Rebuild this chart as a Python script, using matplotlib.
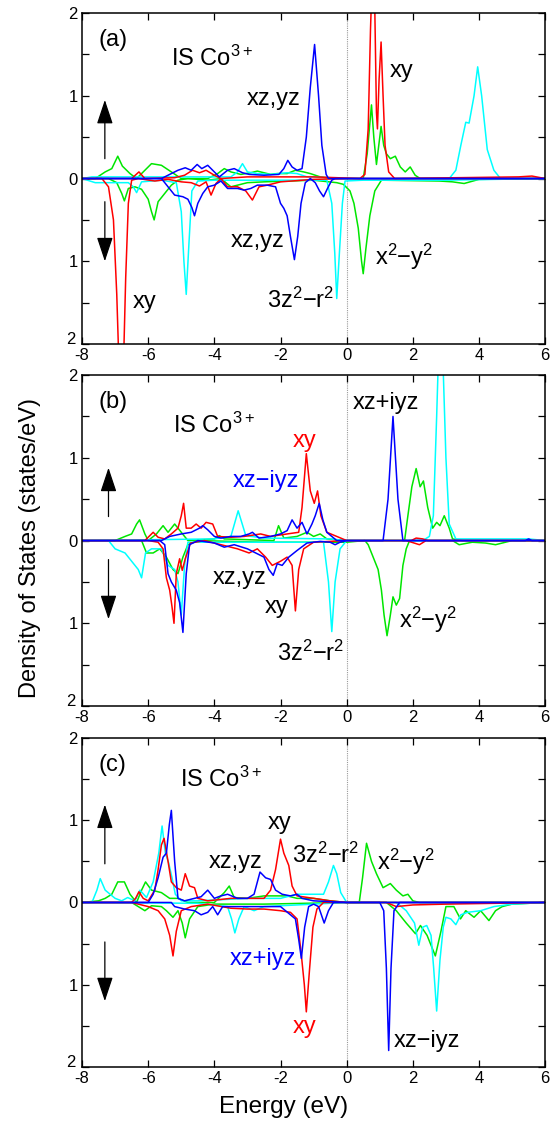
import numpy as np
import matplotlib.pyplot as plt
from matplotlib.transforms import ScaledTranslation

plt.rcParams['font.family'] = ['Liberation Sans', 'DejaVu Sans']
plt.rcParams['mathtext.default'] = 'regular'
plt.rcParams['axes.unicode_minus'] = False

RED = '#ff0000'
BLUE = '#0000ff'
CYAN = '#00ffff'
GREEN = '#00e600'

# ---- panel (a): (energy, DOS) points, down-spin stored as magnitudes ----
a_red_up = [(-8, 0), (-6.5, 0), (-6.28, 0.08), (-6.1, 0), (-5.2, 0.01), (-4.9, 0.04), (-4.66, 0.1),
            (-4.45, 0.07), (-4.25, 0.1), (-4.0, 0.04), (-3.8, 0.0), (-3, 0.02), (-1, 0.02), (0.4, 0),
            (0.55, 0.05), (0.65, 0.6), (0.72, 1.8), (0.76, 2.3), (0.84, 2.3), (0.9, 0.8), (0.93, 0.6),
            (0.98, 1.2), (1.04, 1.65), (1.1, 1.0), (1.16, 0.4), (1.27, 0.08), (1.45, 0), (5.2, 0.02),
            (5.6, 0.03), (6, 0)]
a_red_dn = [(-8, 0), (-7.4, 0), (-7.2, 0.1), (-7.05, 0.5), (-6.95, 1.4), (-6.88, 2.3), (-6.75, 2.3),
            (-6.68, 1.2), (-6.6, 0.3), (-6.5, 0.02), (-6.3, 0), (-5.8, 0.03), (-5.4, 0.01), (-5.0, 0.04),
            (-4.7, 0.05), (-4.45, 0.09), (-4.25, 0.04), (-4.1, 0.2), (-3.95, 0.06), (-3.8, 0.0), (-3.6, 0.1),
            (-3.3, 0.1), (-3.05, 0.15), (-2.85, 0.26), (-2.65, 0.1), (-2.4, 0.08), (-2.0, 0.04),
            (-1.0, 0.01), (0, 0), (6, 0)]
a_blue_up = [(-8, 0), (-5.6, 0), (-5.4, 0.04), (-5.1, 0.1), (-4.88, 0.13), (-4.7, 0.1), (-4.52, 0.17),
             (-4.38, 0.12), (-4.2, 0.16), (-4.0, 0.08), (-3.85, 0.02), (-3.6, 0.1), (-3.4, 0.12),
             (-3.15, 0.07), (-2.95, 0.05), (-2.5, 0.04), (-2.05, 0.05), (-1.9, 0.12), (-1.78, 0.22),
             (-1.65, 0.14), (-1.5, 0.1), (-1.35, 0.12), (-1.22, 0.5), (-1.1, 1.1), (-0.97, 1.62),
             (-0.85, 1.0), (-0.75, 0.4), (-0.62, 0.05), (-0.55, 0), (6, 0)]
a_blue_dn = [(-8, 0), (-5.6, 0), (-5.4, 0.1), (-5.2, 0.2), (-4.95, 0.22), (-4.8, 0.25), (-4.68, 0.35),
             (-4.6, 0.45), (-4.5, 0.3), (-4.35, 0.18), (-4.2, 0.1), (-4.0, 0.08), (-3.8, 0.03), (-3.6, 0.12),
             (-3.3, 0.12), (-3.1, 0.14), (-2.9, 0.12), (-2.7, 0.08), (-2.4, 0.08), (-2.15, 0.1), (-2.0, 0.3),
             (-1.9, 0.36), (-1.8, 0.45), (-1.7, 0.7), (-1.58, 0.98), (-1.48, 0.7), (-1.38, 0.3),
             (-1.25, 0.05), (-1.1, 0.0), (-0.95, 0.05), (-0.82, 0.15), (-0.7, 0.22), (-0.58, 0.12),
             (-0.45, 0.02), (-0.35, 0), (6, 0)]
a_cyan_up = [(-8, 0), (-7.7, 0.02), (-3.5, 0.02), (-3.3, 0.08), (-3.15, 0.18), (-3.0, 0.08), (-2.7, 0.06),
             (-2.3, 0.05), (-1.8, 0.07), (-1.5, 0.06), (-1.2, 0.02), (-0.5, 0.01), (0, 0), (3.1, 0),
             (3.3, 0.1), (3.45, 0.4), (3.6, 0.68), (3.7, 0.67), (3.85, 1.0), (3.96, 1.35), (4.08, 1.0),
             (4.25, 0.35), (4.45, 0.1), (4.65, 0.0), (6, 0)]
a_cyan_dn = [(-8, 0), (-7.6, 0.05), (-7.2, 0.05), (-6.6, 0.05), (-6.45, 0.1), (-6.35, 0.17), (-6.2, 0.04),
             (-5.6, 0.02), (-5.15, 0.05), (-5.0, 0.4), (-4.92, 1.0), (-4.85, 1.4), (-4.77, 0.8),
             (-4.68, 0.15), (-4.5, 0.03), (-4.0, 0.02), (-0.6, 0.02), (-0.45, 0.3), (-0.36, 0.9),
             (-0.3, 1.45), (-0.22, 0.9), (-0.13, 0.3), (-0.05, 0.03), (0.5, 0.02), (3.0, 0.02),
             (4.5, 0.01), (6, 0)]
a_green_up = [(-8, 0), (-7.6, 0), (-7.3, 0.08), (-7.1, 0.12), (-6.92, 0.27), (-6.78, 0.15), (-6.55, 0.06),
              (-6.35, 0.0), (-6.15, 0.08), (-5.9, 0.18), (-5.6, 0.16), (-5.3, 0.08), (-5.0, 0.0), (-4.2, 0.0),
              (-3.9, 0.06), (-3.7, 0.12), (-3.5, 0.08), (-3.2, 0.05), (-2.9, 0.07), (-2.7, 0.09), (-2.3, 0.05),
              (-2.1, 0.06), (-1.8, 0.06), (-1.55, 0.1), (-1.3, 0.08), (-1.1, 0.06), (-0.8, 0.02), (-0.4, 0.0),
              (0.5, 0.0), (0.62, 0.3), (0.75, 0.89), (0.82, 0.5), (0.9, 0.17), (0.97, 0.4), (1.04, 0.63),
              (1.12, 0.4), (1.2, 0.3), (1.32, 0.24), (1.47, 0.27), (1.62, 0.14), (1.77, 0.08), (1.92, 0.14),
              (2.07, 0.04), (2.22, 0.0), (6, 0)]
a_green_dn = [(-8, 0), (-7.2, 0), (-6.95, 0.05), (-6.8, 0.18), (-6.72, 0.27), (-6.6, 0.12), (-6.4, 0.1),
              (-6.2, 0.13), (-6.0, 0.25), (-5.9, 0.4), (-5.82, 0.5), (-5.7, 0.28), (-5.5, 0.18), (-5.3, 0.08),
              (-5.1, 0.02), (-4.8, 0.0), (-4.2, 0.02), (-3.8, 0.0), (-3.5, 0.1), (-3.0, 0.05), (-2.5, 0.04),
              (-1.0, 0.02), (-0.3, 0.05), (-0.1, 0.07), (0.1, 0.15), (0.22, 0.3), (0.35, 0.6), (0.45, 1.0),
              (0.5, 1.15), (0.58, 0.85), (0.7, 0.45), (0.85, 0.15), (1.05, 0.02), (2.8, 0.03), (3.2, 0.04),
              (3.55, 0.06), (4.0, 0.01), (6, 0)]

# ---- panel (b) ----
b_red_up = [(-8, 0), (-6.1, 0), (-5.85, 0.1), (-5.7, 0.04), (-5.5, 0.02), (-5.3, 0.08), (-5.1, 0.15),
            (-5.0, 0.3), (-4.93, 0.45), (-4.85, 0.15), (-4.7, 0.15), (-4.55, 0.2), (-4.4, 0.15), (-4.25, 0.22),
            (-4.05, 0.2), (-3.9, 0.05), (-3.5, 0.04), (-3.1, 0.05), (-2.6, 0.08), (-2.3, 0.05), (-1.8, 0.08),
            (-1.45, 0.1), (-1.35, 0.4), (-1.22, 1.05), (-1.1, 0.6), (-0.98, 0.45), (-0.88, 0.6), (-0.78, 0.3),
            (-0.6, 0.1), (-0.3, 0.05), (0, 0), (1.95, 0), (2.1, 0.03), (2.3, 0.02), (2.45, 0), (6, 0)]
b_red_dn = [(-8, 0), (-6.0, 0), (-5.7, 0.02), (-5.55, 0.1), (-5.45, 0.45), (-5.35, 0.6), (-5.28, 0.8),
            (-5.22, 1.0), (-5.15, 0.4), (-5.05, 0.22), (-4.97, 0.36), (-4.88, 0.22), (-4.72, 0.03),
            (-4.3, 0.0), (-3.8, 0.05), (-3.3, 0.1), (-2.95, 0.15), (-2.7, 0.1), (-2.45, 0.2), (-2.25, 0.3),
            (-2.0, 0.25), (-1.8, 0.2), (-1.65, 0.3), (-1.55, 0.85), (-1.45, 0.35), (-1.3, 0.1), (-1.0, 0.02),
            (0, 0), (1.8, 0), (2.2, 0.05), (2.4, 0), (6, 0)]
b_blue_up = [(-8, 0), (-5.6, 0), (-5.35, 0.05), (-5.0, 0.08), (-4.7, 0.1), (-4.45, 0.15), (-4.35, 0.18),
             (-4.2, 0.13), (-4.0, 0.05), (-3.8, 0.03), (-3.5, 0.05), (-3.2, 0.05), (-2.95, 0.08),
             (-2.85, 0.1), (-2.65, 0.03), (-2.3, 0.05), (-2.0, 0.08), (-1.8, 0.12), (-1.65, 0.25),
             (-1.5, 0.15), (-1.35, 0.22), (-1.2, 0.08), (-1.05, 0.2), (-0.95, 0.3), (-0.83, 0.45),
             (-0.72, 0.25), (-0.6, 0.1), (-0.45, 0.05), (-0.3, 0.0), (1.1, 0), (1.25, 0.5), (1.4, 1.5),
             (1.55, 0.5), (1.7, 0.0), (5.4, 0), (5.5, 0.02), (5.6, 0), (6, 0)]
b_blue_dn = [(-8, 0), (-5.65, 0), (-5.5, 0.05), (-5.4, 0.4), (-5.3, 0.5), (-5.15, 0.6), (-5.05, 0.75),
             (-4.95, 1.11), (-4.85, 0.4), (-4.75, 0.05), (-4.5, 0.0), (-4.0, 0.03), (-3.7, 0.08), (-3.4, 0.05),
             (-3.0, 0.1), (-2.7, 0.16), (-2.5, 0.2), (-2.35, 0.35), (-2.22, 0.42), (-2.1, 0.28), (-1.95, 0.3),
             (-1.75, 0.2), (-1.5, 0.12), (-1.2, 0.03), (-0.8, 0.01), (-0.5, 0.02), (-0.35, 0.05),
             (-0.2, 0.02), (0, 0), (6, 0)]
b_cyan_up = [(-8, 0), (-4.0, 0.02), (-3.5, 0.05), (-3.28, 0.36), (-3.05, 0.06), (-2.5, 0.03), (-0.5, 0.02),
             (0, 0), (2.3, 0), (2.5, 0.05), (2.62, 0.3), (2.72, 1.5), (2.78, 2.3), (2.9, 2.3), (3.0, 1.0),
             (3.1, 0.2), (3.3, 0.02), (4.5, 0.02), (5.5, 0.02), (6, 0)]
b_cyan_dn = [(-8, 0), (-7.2, 0), (-7.0, 0.1), (-6.7, 0.15), (-6.5, 0.25), (-6.3, 0.35), (-6.2, 0.45),
             (-6.08, 0.15), (-5.9, 0.1), (-5.6, 0.1), (-5.4, 0.3), (-5.2, 0.35), (-5.1, 0.5), (-5.0, 0.9),
             (-4.9, 0.3), (-4.8, 0.02), (-0.7, 0.02), (-0.55, 0.5), (-0.45, 1.1), (-0.35, 0.5), (-0.2, 0.1),
             (0, 0), (6, 0)]
b_green_up = [(-8, 0), (-7.0, 0), (-6.7, 0.05), (-6.5, 0.08), (-6.35, 0.2), (-6.26, 0.25), (-6.1, 0.08),
              (-6.0, 0.0), (-5.75, 0.08), (-5.55, 0.18), (-5.4, 0.1), (-5.2, 0.2), (-5.0, 0.1), (-4.8, 0.0),
              (-4.0, 0.02), (-3.85, 0.06), (-3.7, 0.02), (-2.2, 0.0), (-2.06, 0.18), (-1.9, 0.03),
              (-1.5, 0.05), (-1.2, 0.1), (-1.0, 0.05), (-0.8, 0.08), (-0.6, 0.02), (0, 0), (1.75, 0),
              (1.85, 0.3), (1.97, 0.65), (2.1, 0.87), (2.22, 0.65), (2.32, 0.72), (2.45, 0.4), (2.6, 0.15),
              (2.72, 0.22), (2.82, 0.18), (2.95, 0.3), (3.1, 0.15), (3.2, 0.02), (3.5, 0), (6, 0)]
b_green_dn = [(-8, 0), (-6.2, 0), (-6.05, 0.15), (-5.85, 0.15), (-5.65, 0.1), (-5.45, 0.2), (-5.25, 0.35),
              (-5.1, 0.4), (-4.95, 0.2), (-4.8, 0.05), (-4.5, 0.0), (-2.5, 0.02), (0, 0.02), (0.55, 0),
              (0.65, 0.05), (0.8, 0.2), (0.95, 0.35), (1.05, 0.6), (1.13, 0.9), (1.22, 1.15), (1.32, 0.9),
              (1.4, 0.68), (1.5, 0.78), (1.6, 0.7), (1.7, 0.3), (1.8, 0.1), (1.9, 0.0), (3.2, 0),
              (3.4, 0.05), (3.8, 0.02), (4.2, 0.03), (4.5, 0.05), (4.7, 0.03), (5.0, 0), (6, 0)]

# ---- panel (c) ----
c_red_up = [(-8, 0), (-6.5, 0), (-6.38, 0.05), (-6.28, 0.13), (-6.15, 0.05), (-6.0, 0.02), (-5.8, 0.15),
            (-5.7, 0.4), (-5.6, 0.7), (-5.52, 0.78), (-5.4, 0.5), (-5.3, 0.25), (-5.15, 0.18), (-5.0, 0.15),
            (-4.88, 0.35), (-4.75, 0.2), (-4.6, 0.18), (-4.5, 0.05), (-4.2, 0.02), (-3.5, 0.05), (-3.0, 0.05),
            (-2.5, 0.05), (-2.3, 0.15), (-2.15, 0.4), (-2.0, 0.77), (-1.9, 0.6), (-1.75, 0.45), (-1.65, 0.2),
            (-1.5, 0.08), (-1.0, 0.05), (-0.5, 0.02), (0, 0), (6, 0)]
c_red_dn = [(-8, 0), (-6.5, 0), (-6.0, 0.05), (-5.7, 0.1), (-5.5, 0.2), (-5.35, 0.4), (-5.25, 0.65),
            (-5.15, 0.35), (-5.0, 0.1), (-4.7, 0.05), (-4.2, 0.02), (-3.5, 0.07), (-3.0, 0.08), (-2.5, 0.08),
            (-2.0, 0.1), (-1.7, 0.12), (-1.5, 0.2), (-1.38, 0.6), (-1.28, 1.0), (-1.22, 1.33), (-1.12, 0.8),
            (-1.02, 0.3), (-0.9, 0.08), (-0.7, 0), (0, 0), (1.2, 0), (1.5, 0.05), (2.0, 0.03), (3.0, 0.02),
            (6, 0)]
c_blue_up = [(-8, 0), (-6.0, 0), (-5.85, 0.1), (-5.7, 0.3), (-5.55, 0.55), (-5.45, 0.6), (-5.36, 0.95),
             (-5.3, 1.12), (-5.2, 0.5), (-5.1, 0.05), (-4.9, 0.02), (-4.6, 0.05), (-4.4, 0.07), (-4.2, 0.15),
             (-4.0, 0.05), (-3.8, 0.08), (-3.6, 0.1), (-3.3, 0.05), (-3.0, 0.05), (-2.8, 0.1), (-2.7, 0.25),
             (-2.62, 0.37), (-2.45, 0.3), (-2.3, 0.28), (-2.15, 0.15), (-1.95, 0.1), (-1.7, 0.08),
             (-1.5, 0.1), (-1.35, 0.05), (-1.0, 0.02), (0, 0), (6, 0)]
c_blue_dn = [(-8, 0), (-5.3, 0), (-5.2, 0.05), (-4.9, 0.08), (-4.6, 0.1), (-4.4, 0.15), (-4.2, 0.12),
             (-4.05, 0.05), (-3.9, 0.15), (-3.75, 0.05), (-3.2, 0.05), (-2.8, 0.05), (-2.5, 0.05),
             (-2.0, 0.05), (-1.7, 0.15), (-1.55, 0.2), (-1.45, 0.45), (-1.37, 0.68), (-1.27, 0.3),
             (-1.15, 0.05), (-1.0, 0.02), (-0.85, 0.05), (-0.68, 0.25), (-0.55, 0.1), (-0.4, 0), (0, 0),
             (1.0, 0), (1.12, 0.1), (1.2, 0.8), (1.27, 1.8), (1.34, 0.8), (1.43, 0.1), (1.6, 0), (6, 0)]
c_cyan_up = [(-8, 0), (-7.7, 0.0), (-7.55, 0.15), (-7.45, 0.29), (-7.3, 0.15), (-7.0, 0.05), (-6.8, 0.02),
             (-6.62, 0.06), (-6.4, 0.02), (-6.25, 0.15), (-6.05, 0.06), (-5.85, 0.25), (-5.68, 0.6),
             (-5.58, 0.93), (-5.48, 0.6), (-5.38, 0.48), (-5.28, 0.3), (-5.18, 0.1), (-5.0, 0.02),
             (-4.5, 0.02), (-3.0, 0.05), (-2.0, 0.05), (-1.5, 0.1), (-1.0, 0.1), (-0.7, 0.1), (-0.55, 0.25),
             (-0.4, 0.45), (-0.3, 0.35), (-0.18, 0.12), (0, 0), (6, 0)]
c_cyan_dn = [(-8, 0), (-4.5, 0.01), (-3.6, 0.05), (-3.48, 0.2), (-3.38, 0.37), (-3.26, 0.2), (-3.1, 0.05),
             (-2.8, 0.1), (-2.5, 0.05), (-1.5, 0.03), (0, 0), (1.5, 0), (1.8, 0.1), (2.05, 0.25), (2.18, 0.52),
             (2.3, 0.3), (2.42, 0.28), (2.55, 0.4), (2.63, 0.8), (2.72, 1.32), (2.82, 0.7), (2.92, 0.3),
             (3.0, 0.18), (3.15, 0.2), (3.3, 0.27), (3.45, 0.15), (3.65, 0.12), (4.05, 0.1), (4.45, 0.05),
             (5.0, 0.02), (6, 0)]
c_green_up = [(-8, 0), (-7.5, 0.02), (-7.3, 0.05), (-7.1, 0.1), (-6.92, 0.25), (-6.72, 0.25), (-6.55, 0.1),
              (-6.35, 0.0), (-6.2, 0.15), (-6.08, 0.25), (-5.9, 0.15), (-5.6, 0.12), (-5.35, 0.05),
              (-5.1, 0.05), (-4.8, 0.0), (-4.0, 0.0), (-3.7, 0.12), (-3.55, 0.2), (-3.4, 0.06), (-3.0, 0.05),
              (-2.5, 0.08), (-2.0, 0.08), (-1.8, 0.08), (-1.5, 0.05), (-1.0, 0.05), (-0.5, 0.02), (0, 0),
              (0.38, 0), (0.48, 0.3), (0.6, 0.72), (0.75, 0.5), (0.9, 0.35), (1.1, 0.18), (1.32, 0.23),
              (1.5, 0.15), (1.7, 0.08), (1.85, 0.1), (2.0, 0.02), (2.2, 0), (6, 0)]
c_green_dn = [(-8, 0), (-6.5, 0), (-6.3, 0.05), (-6.1, 0.1), (-5.9, 0.04), (-5.6, 0.05), (-5.45, 0.1),
              (-5.25, 0.18), (-5.1, 0.1), (-4.97, 0.25), (-4.88, 0.43), (-4.75, 0.2), (-4.5, 0.05),
              (-4.0, 0.02), (-2.5, 0.02), (0, 0), (1.2, 0), (1.5, 0.1), (1.8, 0.25), (2.08, 0.38),
              (2.23, 0.28), (2.43, 0.4), (2.68, 0.65), (2.85, 0.35), (3.0, 0.05), (3.24, 0.05), (3.44, 0.2),
              (3.6, 0.1), (3.85, 0.18), (4.05, 0.1), (4.3, 0.22), (4.5, 0.1), (4.7, 0.05), (5.0, 0.02), (6, 0)]

# orbital annotations: (text, energy, dos, colour)
a_labels = [('xz,yz', -2.2, 0.96, 'k'), ('xy', 1.67, 1.3, 'k'), ('xz,yz', -2.7, -0.75, 'k'),
            ('xy', -6.1, -1.49, 'k'), ('3z$^2$−r$^2$', -1.4, -1.47, 'k'), ('x$^2$−y$^2$', 1.73, -0.95, 'k')]
b_labels = [('xy', -1.26, 1.2, RED), ('xz−iyz', -2.45, 0.72, BLUE), ('xz+iyz', 1.2, 1.66, 'k'),
            ('xz,yz', -3.25, -0.45, 'k'), ('xy', -2.13, -0.8, 'k'), ('3z$^2$−r$^2$', -1.08, -1.36, 'k'),
            ('x$^2$−y$^2$', 2.45, -0.96, 'k')]
c_labels = [('xy', -2.02, 0.97, 'k'), ('xz,yz', -3.37, 0.49, 'k'), ('3z$^2$−r$^2$', -0.65, 0.57, 'k'),
            ('x$^2$−y$^2$', 1.8, 0.49, 'k'), ('xz+iyz', -2.53, -0.69, BLUE), ('xy', -1.26, -1.51, RED),
            ('xz−iyz', 2.43, -1.69, 'k')]

panels = [
    dict(tag='(a)', rect=[0.147, 0.6942, 0.830, 0.2942], ion_x=-5.31, ion_y=1.45,
         curves=[(GREEN, a_green_up, a_green_dn), (CYAN, a_cyan_up, a_cyan_dn),
                 (RED, a_red_up, a_red_dn), (BLUE, a_blue_up, a_blue_dn)],
         labels=a_labels, arrows=(-7.31, 0.24, 0.95, -0.28, -1.0)),
    dict(tag='(b)', rect=[0.147, 0.3724, 0.830, 0.2942], ion_x=-5.24, ion_y=1.39,
         curves=[(GREEN, b_green_up, b_green_dn), (CYAN, b_cyan_up, b_cyan_dn),
                 (RED, b_red_up, b_red_dn), (BLUE, b_blue_up, b_blue_dn)],
         labels=b_labels, arrows=(-7.2, 0.29, 0.88, -0.23, -0.95)),
    dict(tag='(c)', rect=[0.147, 0.0516, 0.830, 0.2924], ion_x=-5.04, ion_y=1.5,
         curves=[(GREEN, c_green_up, c_green_dn), (CYAN, c_cyan_up, c_cyan_dn),
                 (RED, c_red_up, c_red_dn), (BLUE, c_blue_up, c_blue_dn)],
         labels=c_labels, arrows=(-7.31, 0.47, 1.19, -0.48, -1.2)),
]

fig = plt.figure(figsize=(5.58, 11.25), dpi=100)
lift = ScaledTranslation(-2 / 100, 6 / 100, fig.dpi_scale_trans)

for p in panels:
    ax = fig.add_axes(p['rect'])
    ax.axvline(0, color='#9a9a9a', lw=0.8, ls=(0, (1, 1)), zorder=0.5)
    for col, up, dn in p['curves']:
        up = np.array(up)
        dn = np.array(dn)
        ax.plot(up[:, 0], up[:, 1], color=col, lw=1.1)
        ax.plot(dn[:, 0], -dn[:, 1], color=col, lw=1.1)

    ax.set_xlim(-8, 6)
    ax.set_ylim(-2, 2)
    ax.set_xticks(np.arange(-8, 7, 2))
    ax.set_yticks([-2, -1, 0, 1, 2])
    ax.set_yticklabels(['2', '1', '0', '1', '2'])
    ax.set_yticks([-1.5, -0.5, 0.5, 1.5], minor=True)
    ax.tick_params(which='both', direction='in', top=True, right=True, length=5, width=0.9,
                   labelsize=12, pad=3)
    for s in ax.spines.values():
        s.set_linewidth(1.1)
    # bottom "2" label sits just above the "-8" energy label
    lab = ax.get_yticklabels()[0]
    lab.set_transform(lab.get_transform() + lift)

    ax.text(-7.5, 1.67, p['tag'], fontsize=17, ha='left', va='center')
    ax.text(p['ion_x'], p['ion_y'], 'IS Co$^{3+}$', fontsize=17, ha='left', va='center')
    for txt, x, y, col in p['labels']:
        ax.text(x, y, txt, fontsize=17, ha='center', va='center', color=col)

    xa, u0, u1, d0, d1 = p['arrows']
    for y0, y1 in [(u0, u1), (d0, d1)]:
        ax.annotate('', xy=(xa, y1), xytext=(xa, y0),
                    arrowprops=dict(arrowstyle='-|>,head_length=1.5,head_width=0.5',
                                    color='k', lw=0.9, shrinkA=0, shrinkB=0))

fig.text(30 / 558, 1 - 548 / 1125, 'Density of States (states/eV)', rotation=90,
         ha='center', va='center', fontsize=17)
fig.text(284 / 558, 1 - 1107 / 1125, 'Energy (eV)', ha='center', va='center', fontsize=17.5)

fig.savefig('out.png', dpi=100)
